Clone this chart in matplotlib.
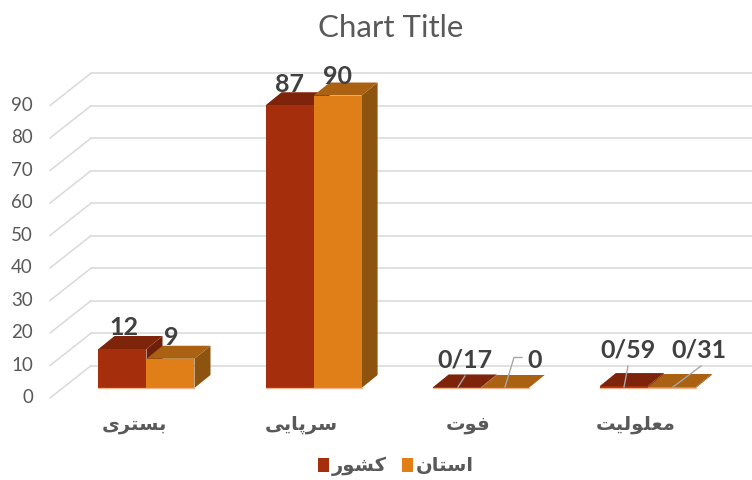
import matplotlib
matplotlib.use("Agg")
import matplotlib.pyplot as plt
from matplotlib.patches import Patch, Polygon

categories = ["بستری", "سرپایی", "فوت", "معلولیت"]
series_names = ["کشور", "استان"]
country_values = [12, 87, 0.17, 0.59]
province_values = [9, 90, 0, 0.31]
country_labels = ["12", "87", "0/17", "0/59"]
province_labels = ["9", "90", "0", "0/31"]
y_ticks = [0, 10, 20, 30, 40, 50, 60, 70, 80, 90]

COL_FRONT = ["#A52F0C", "#E07E17"]
COL_TOP = ["#7E240A", "#AA6112"]
COL_SIDE = ["#70200A", "#8D5410"]
GRID = "#D9D9D9"
GREY = "#595959"
DARK = "#404040"

W, H = 752, 480
GROUP_PX = 167.1
UNIT_PX = 3.25
BASE_X = 146.5
BASE_Y = 388.0
BAR_W = 48.0 / GROUP_PX
DEPTH_X = 16.0 / GROUP_PX
DEPTH_Y = 13.0 / UNIT_PX

# arabic letters -> first presentation form (isolated, final, initial, medial)
FORMS = {"ب": 0xFE8F, "ت": 0xFE95, "س": 0xFEB1, "ر": 0xFEAD, "ی": 0xFBFC, "پ": 0xFB56,
         "ا": 0xFE8D, "ف": 0xFED1, "و": 0xFEED, "م": 0xFEE1, "ع": 0xFEC9, "ل": 0xFEDD,
         "ک": 0xFB8E, "ش": 0xFEB5, "ن": 0xFEE5}
NO_NEXT = "ارو"


def shape(word):
    # matplotlib does no joining or bidi, so do it by hand
    out = []
    for i, ch in enumerate(word):
        prev_joins = i > 0 and word[i - 1] not in NO_NEXT
        next_joins = i < len(word) - 1 and ch not in NO_NEXT
        idx = {(False, False): 0, (True, False): 1, (False, True): 2, (True, True): 3}[(prev_joins, next_joins)]
        out.append(chr(FORMS[ch] + idx))
    return "".join(reversed(out))


def px(x, y):
    # reference pixel -> data position, for text placement
    return (x - BASE_X) / GROUP_PX, (BASE_Y - y) / UNIT_PX


fig = plt.figure(figsize=(W / 100, H / 100), dpi=100)
ax = fig.add_axes([0, 0, 1, 1])
ax.set_xlim(px(0, 0)[0], px(W, 0)[0])
ax.set_ylim(px(0, H)[1], px(0, 0)[1])
ax.axis("off")

# back wall and floor lines
x_wall = px(91, 0)[0]
x_front = px(50, 0)[0]
for v in y_ticks:
    ax.plot([x_front, x_wall], [v - 3.08, v + 6.86], color=GRID, lw=1.1, zorder=1)
    ax.plot([x_wall, ax.get_xlim()[1]], [v + 6.86, v + 6.86], color=GRID, lw=1.1, zorder=1)
    tx, ty = px(33, 397.5 - v * 3.244)
    ax.text(tx, ty, str(v), ha="right", va="center", fontsize=13.5, color=GREY, family="Lato")

for s, values in enumerate([country_values, province_values]):
    for i, v in enumerate(values):
        x0 = i - BAR_W + s * BAR_W
        x1 = x0 + BAR_W
        z = 3 + i * 2 + s * 0.5
        front = [(x0, 0), (x1, 0), (x1, v), (x0, v)]
        top = [(x0, v), (x1, v), (x1 + DEPTH_X, v + DEPTH_Y), (x0 + DEPTH_X, v + DEPTH_Y)]
        side = [(x1, 0), (x1 + DEPTH_X, DEPTH_Y), (x1 + DEPTH_X, v + DEPTH_Y), (x1, v)]
        ax.add_patch(Polygon(side, fc=COL_SIDE[s], ec="none", zorder=z))
        ax.add_patch(Polygon(top, fc=COL_TOP[s], ec="none", zorder=z))
        ax.add_patch(Polygon(front, fc=COL_FRONT[s], ec="none", zorder=z))
        ax.plot([x0, x1], [0, 0], color="#F2B48C", lw=0.9, zorder=z + 0.1)

# leader lines
leaders = [[(458, 387), (465, 376)], [(505, 387), (514, 357.5), (522, 357.5)],
           [(624, 387), (628, 366)], [(673, 387), (701, 366)]]
for pts in leaders:
    xy = [px(*p) for p in pts]
    ax.plot([p[0] for p in xy], [p[1] for p in xy], color="#A6A6A6", lw=1.0, zorder=20)

# data labels
label_pos = [(124, 327.5), (171, 337.5), (290, 84.5), (338, 76.5), (465, 360.5), (535, 360.5), (628, 349.5), (699, 349.5)]
label_text = [country_labels[0], province_labels[0], country_labels[1], province_labels[1],
              country_labels[2], province_labels[2], country_labels[3], province_labels[3]]
for pos, txt in zip(label_pos, label_text):
    tx, ty = px(*pos)
    ax.text(tx, ty, txt, ha="center", va="center", fontsize=18, fontweight="bold",
            color=DARK, family="Lato", zorder=21)

for i, cat in enumerate(categories):
    ax.text(i - 12.5 / GROUP_PX, px(0, 425)[1], shape(cat), ha="center", va="center", fontsize=14,
            fontweight="bold", color=GREY, family="DejaVu Sans")

ax.text(*px(391, 28), "Chart Title", ha="center", va="center", fontsize=22.5, color=GREY, family="Lato")

handles = [Patch(fc=COL_FRONT[0], ec="none"), Patch(fc=COL_FRONT[1], ec="none")]
leg = ax.legend(handles, [shape(n) for n in series_names], ncol=2, frameon=False,
                loc="center", bbox_to_anchor=(396 / W, 1 - 466.5 / H),
                prop={"family": "DejaVu Sans", "weight": "bold", "size": 14},
                handlelength=0.55, handleheight=0.75, handletextpad=0.15, columnspacing=0.8, labelcolor=GREY)

fig.savefig("out.png", dpi=100)
